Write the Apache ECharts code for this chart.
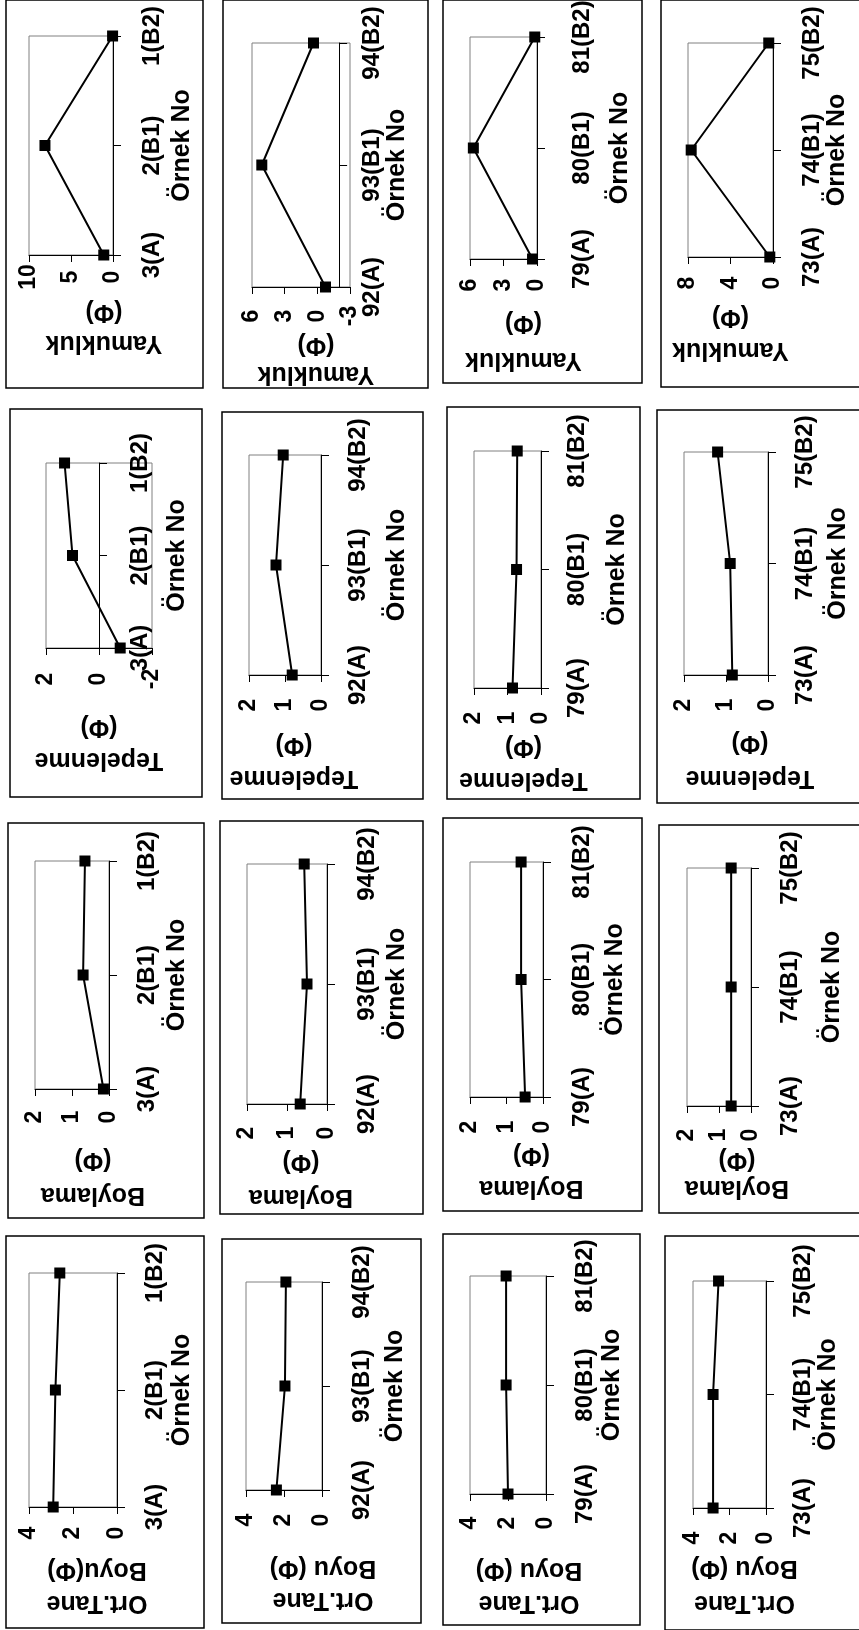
<!DOCTYPE html>
<html>
<head>
<meta charset="utf-8">
<script src="https://cdn.jsdelivr.net/npm/echarts@6/dist/echarts.min.js"></script>
<style>
html,body{margin:0;padding:0;background:#fff;}
#chart{width:859px;height:1630px;}
</style>
</head>
<body>
<div id="chart"></div>
<script>
// ---------- categories (sample numbers) ----------
const catsSet1 = ['3(A)', '2(B1)', '1(B2)'];
const catsSet2 = ['92(A)', '93(B1)', '94(B2)'];
const catsSet3 = ['79(A)', '80(B1)', '81(B2)'];
const catsSet4 = ['73(A)', '74(B1)', '75(B2)'];

// ---------- series values (Φ) ----------
const yamuklukSet1 = [1.1, 8.1, 0.05];
const yamuklukSet2 = [-0.75, 5.1, 0.35];
const yamuklukSet3 = [0.4, 5.7, 0.2];
const yamuklukSet4 = [0.3, 7.7, 0.4];

const tepelenmeSet1 = [-0.8, 1.0, 1.3];
const tepelenmeSet2 = [0.8, 1.25, 1.05];
const tepelenmeSet3 = [0.85, 0.73, 0.71];
const tepelenmeSet4 = [0.85, 0.9, 1.2];

const boylamaSet1 = [0.15, 0.7, 0.65];
const boylamaSet2 = [0.67, 0.5, 0.57];
const boylamaSet3 = [0.49, 0.6, 0.6];
const boylamaSet4 = [0.62, 0.62, 0.62];

const ortTaneSet1 = [2.9, 2.8, 2.6];
const ortTaneSet2 = [2.4, 1.95, 1.9];
const ortTaneSet3 = [2.0, 2.1, 2.1];
const ortTaneSet4 = [2.9, 2.9, 2.6];

// ---------- value-axis tick labels ----------
const ticksYam1 = [0, 5, 10];
const ticksYam2 = [-3, 0, 3, 6];
const ticksYam3 = [0, 3, 6];
const ticksYam4 = [0, 4, 8];
const ticksTep1 = [-2, 0, 2];
const ticksUnit2 = [0, 1, 2];
const ticksOrt = [0, 2, 4];

// where the category axis crosses the value axis
const crossYam2 = -2;
const crossTep1 = 0;

// ---------- axis titles ----------
const catTitle = 'Örnek No';
const titleYam = 'Yamukluk\n(Φ)';
const titleTep = 'Tepelenme\n(Φ)';
const titleBoy = 'Boylama\n(Φ)';
const titleOrt1 = 'Ort.Tane\nBoyu(Φ)';
const titleOrt = 'Ort.Tane\nBoyu (Φ)';

// ---------- panels (row-major) ----------
const panels = [
  {cats: catsSet1, vals: yamuklukSet1, ticks: ticksYam1, title: titleYam},
  {cats: catsSet2, vals: yamuklukSet2, ticks: ticksYam2, title: titleYam, cross: crossYam2},
  {cats: catsSet3, vals: yamuklukSet3, ticks: ticksYam3, title: titleYam},
  {cats: catsSet4, vals: yamuklukSet4, ticks: ticksYam4, title: titleYam},
  {cats: catsSet1, vals: tepelenmeSet1, ticks: ticksTep1, title: titleTep, cross: crossTep1},
  {cats: catsSet2, vals: tepelenmeSet2, ticks: ticksUnit2, title: titleTep},
  {cats: catsSet3, vals: tepelenmeSet3, ticks: ticksUnit2, title: titleTep},
  {cats: catsSet4, vals: tepelenmeSet4, ticks: ticksUnit2, title: titleTep},
  {cats: catsSet1, vals: boylamaSet1, ticks: ticksUnit2, title: titleBoy},
  {cats: catsSet2, vals: boylamaSet2, ticks: ticksUnit2, title: titleBoy},
  {cats: catsSet3, vals: boylamaSet3, ticks: ticksUnit2, title: titleBoy},
  {cats: catsSet4, vals: boylamaSet4, ticks: ticksUnit2, title: titleBoy},
  {cats: catsSet1, vals: ortTaneSet1, ticks: ticksOrt, title: titleOrt1},
  {cats: catsSet2, vals: ortTaneSet2, ticks: ticksOrt, title: titleOrt},
  {cats: catsSet3, vals: ortTaneSet3, ticks: ticksOrt, title: titleOrt},
  {cats: catsSet4, vals: ortTaneSet4, ticks: ticksOrt, title: titleOrt}
];

// ---------- layout (pixels) ----------
// box: panel frame; plot: plot area [l,t,r,b]; cm/cng: category label margin / title gap;
// vm/vng: value label margin / title gap; lh: title line height; tdx: horizontal shift of value title
const layout = [
  {box:[6,0,203,388],    plot:[29,36,113,255],    cm:39, cng:69, vm:22, vng:72.5, lh:31, tdx:33},
  {box:[223,0,428,388],  plot:[252,43,350,287],   cm:33, cng:57, vm:29, vng:60.5, lh:29, tdx:15},
  {box:[443,0,642,383],  plot:[470,37,537,259],   cm:45, cng:83, vm:26, vng:82.5, lh:37, tdx:20},
  {box:[661,0,862,387],  plot:[688,43,773,257],   cm:39, cng:62, vm:26, vng:76.5, lh:33, tdx:0},
  {box:[10,409,202,797], plot:[46,463,152,648],   cm:41, cng:78, vm:31, vng:95.5, lh:33, tdx:0},
  {box:[222,412,423,799],plot:[249,455,321,675],  cm:37, cng:76, vm:30, vng:86.5, lh:33, tdx:9},
  {box:[447,407,640,799],plot:[474,451,541,688],  cm:36, cng:76, vm:30, vng:75.5, lh:33, tdx:16},
  {box:[657,410,862,803],plot:[684,452,768,675],  cm:37, cng:70, vm:30, vng:85.5, lh:35, tdx:24},
  {box:[8,823,204,1218], plot:[35,861,109,1089],  cm:38, cng:68, vm:28, vng:88.5, lh:35, tdx:21},
  {box:[220,821,423,1214],plot:[247,864,327,1104],cm:40, cng:70, vm:29, vng:75.5, lh:35, tdx:14},
  {box:[443,818,642,1211],plot:[470,862,543,1097],cm:39, cng:72, vm:30, vng:74.5, lh:33, tdx:25},
  {box:[659,825,862,1213],plot:[687,868,751,1106],cm:39, cng:81, vm:29, vng:68,   lh:28, tdx:18},
  {box:[6,1236,204,1628], plot:[29,1273,117,1507],cm:38, cng:65, vm:26, vng:79.5, lh:33, tdx:24},
  {box:[222,1239,421,1623],plot:[246,1282,322,1490],cm:40,cng:73, vm:30, vng:94,   lh:32, tdx:39},
  {box:[443,1234,640,1625],plot:[470,1276,546,1494],cm:39,cng:66, vm:29, vng:92.5, lh:33, tdx:21},
  {box:[665,1236,862,1630],plot:[693,1281,766,1508],cm:37,cng:61, vm:30, vng:77.5, lh:35, tdx:15}
];

const FONT = '"Liberation Sans", Arial, sans-serif';
const grids = [], xAxes = [], yAxes = [], series = [], graphics = [];

panels.forEach((p, i) => {
  const L = layout[i];
  const [l, t, r, b] = L.plot;
  const w = r - l, h = b - t;
  const min = p.ticks[0], max = p.ticks[p.ticks.length - 1];
  const interval = p.ticks[1] - p.ticks[0];
  const cross = (p.cross === undefined) ? min : p.cross;
  const offset = -(cross - min) / (max - min) * w;
  // title rotated 180°: right padding in text frame shifts it right on screen
  const pad = L.tdx >= 0 ? [0, 2 * L.tdx, 0, 0] : [0, 0, 0, -2 * L.tdx];

  graphics.push({
    type: 'rect', silent: true, z: 0,
    shape: {x: L.box[0], y: L.box[1], width: L.box[2] - L.box[0], height: L.box[3] - L.box[1]},
    style: {fill: null, stroke: '#000', lineWidth: 1.5}
  });

  grids.push({
    left: l, top: t, width: w, height: h,
    show: true, borderColor: '#808080', borderWidth: 1, backgroundColor: 'transparent',
    containLabel: false, outerBoundsMode: 'none'
  });

  xAxes.push({
    type: 'value', gridIndex: i, inverse: true, position: 'bottom',
    min: min, max: max, interval: interval,
    splitLine: {show: false},
    axisLine: {show: true, onZero: false, lineStyle: {color: '#000', width: 1}},
    axisTick: {show: true, length: 7, lineStyle: {color: '#000', width: 1}},
    axisLabel: {
      rotate: 90, margin: L.vm, align: 'center', verticalAlign: 'middle',
      color: '#000', fontFamily: FONT, fontWeight: 'bold', fontSize: 23,
      showMinLabel: true, showMaxLabel: true
    },
    name: p.title, nameLocation: 'middle', nameRotate: 180, nameGap: L.vng,
    nameTextStyle: {
      color: '#000', fontFamily: FONT, fontWeight: 'bold', fontSize: 25,
      lineHeight: L.lh, align: 'center', verticalAlign: 'middle', padding: pad
    }
  });

  yAxes.push({
    type: 'category', gridIndex: i, data: p.cats, boundaryGap: false,
    position: 'right', offset: offset,
    splitLine: {show: false},
    axisLine: {show: true, onZero: false, lineStyle: {color: '#000', width: 1}},
    axisTick: {show: true, length: 8, lineStyle: {color: '#000', width: 1}},
    axisLabel: {
      interval: 0, rotate: 90, margin: L.cm, align: 'center', verticalAlign: 'middle',
      color: '#000', fontFamily: FONT, fontWeight: 'bold', fontSize: 24
    },
    name: catTitle, nameLocation: 'middle', nameRotate: 90, nameGap: L.cng,
    nameTextStyle: {
      color: '#000', fontFamily: FONT, fontWeight: 'bold', fontSize: 25,
      align: 'center', verticalAlign: 'middle'
    }
  });

  series.push({
    type: 'line', xAxisIndex: i, yAxisIndex: i,
    data: p.vals,
    symbol: 'rect', symbolSize: 11,
    itemStyle: {color: '#000'},
    lineStyle: {color: '#000', width: 2},
    clip: false
  });
});

const chart = echarts.init(document.getElementById('chart'), null, {renderer: 'canvas'});
chart.setOption({
  animation: false,
  backgroundColor: '#fff',
  grid: grids,
  xAxis: xAxes,
  yAxis: yAxes,
  series: series,
  graphic: graphics
});
</script>
</body>
</html>
